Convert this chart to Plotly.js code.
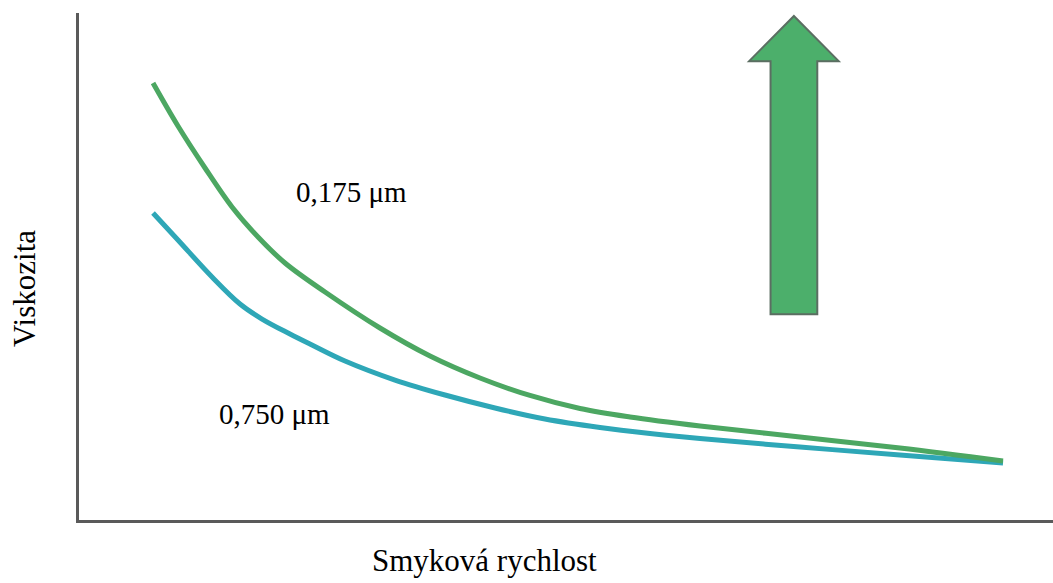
<!DOCTYPE html>
<html>
<head>
<meta charset="utf-8">
<script src="https://cdn.plot.ly/plotly-3.0.1.min.js"></script>
<style>html,body{margin:0;padding:0;background:#fff;}#chart{width:1053px;height:583px;}</style>
</head>
<body>
<div id="chart"></div>
<script>
// Shear rate (arbitrary units) and viscosity (arbitrary units)
const shearFine = [7.60, 10.16, 12.94, 15.71, 18.38, 21.15, 25.26, 30.90, 36.04, 41.17, 46.30, 51.44, 56.57, 63.76, 74.02, 84.29, 94.87];
const viscFine  = [86.19, 77.71, 69.43, 61.74, 55.82, 50.69, 44.97, 37.87, 32.35, 28.01, 24.56, 21.99, 20.32, 18.54, 16.37, 14.20, 11.64];
const shearCoarse = [7.60, 10.16, 13.66, 16.53, 18.79, 21.66, 23.92, 27.31, 32.44, 37.58, 42.71, 47.84, 53.49, 58.62, 63.76, 74.02, 84.29, 94.87];
const viscCoarse  = [60.55, 55.23, 47.93, 42.60, 39.64, 36.69, 34.52, 31.36, 27.61, 24.65, 22.09, 19.92, 18.24, 17.06, 16.07, 14.40, 12.82, 11.24];
const labelFine = "0,175 μm";
const labelCoarse = "0,750 μm";
const xTitle = "Smyková rychlost";
const yTitle = "Viskozita";

const serif = "Liberation Serif";

const traces = [
  {x: shearCoarse, y: viscCoarse, mode: "lines", line: {color: "#2ea7b7", width: 5, shape: "spline", smoothing: 1}, hoverinfo: "skip"},
  {x: shearFine, y: viscFine, mode: "lines", line: {color: "#4ca762", width: 5, shape: "spline", smoothing: 1}, hoverinfo: "skip"}
];

const layout = {
  width: 1053, height: 583,
  margin: {l: 79, r: 0, t: 13, b: 63},
  paper_bgcolor: "#fff", plot_bgcolor: "#fff",
  showlegend: false,
  font: {family: serif, size: 29, color: "#000"},
  xaxis: {range: [0, 100], showline: true, linecolor: "#5a5a5a", linewidth: 3, showgrid: false, zeroline: false,
          showticklabels: false, ticks: "", fixedrange: true},
  yaxis: {range: [0, 100], showline: true, linecolor: "#5a5a5a", linewidth: 3, showgrid: false, zeroline: false,
          showticklabels: false, ticks: "", fixedrange: true},
  shapes: [{
    type: "path", xref: "x", yref: "y", layer: "above",
    path: "M 73.4 99.4 L 78.0 90.5 L 75.8 90.5 L 75.8 40.6 L 71.0 40.6 L 71.0 90.5 L 68.8 90.5 Z",
    fillcolor: "#4caf6b", line: {color: "#5b6e62", width: 2}
  }],
  annotations: [
    {x: 27.98, y: 64.7, xref: "x", yref: "y", text: labelFine, showarrow: false, font: {family: serif, size: 29, color: "#000"}},
    {x: 20.12, y: 20.9, xref: "x", yref: "y", text: labelCoarse, showarrow: false, font: {family: serif, size: 29, color: "#000"}},
    {x: 0.4168, y: -0.0789, xref: "paper", yref: "paper", xanchor: "center", yanchor: "middle", text: xTitle, showarrow: false,
     font: {family: serif, size: 31, color: "#000"}},
    {x: -0.0555, y: 0.4576, xref: "paper", yref: "paper", xanchor: "center", yanchor: "middle", textangle: -90, text: yTitle, showarrow: false,
     font: {family: serif, size: 31, color: "#000"}}
  ]
};

Plotly.newPlot("chart", traces, layout, {displayModeBar: false, staticPlot: true});
</script>
</body>
</html>
